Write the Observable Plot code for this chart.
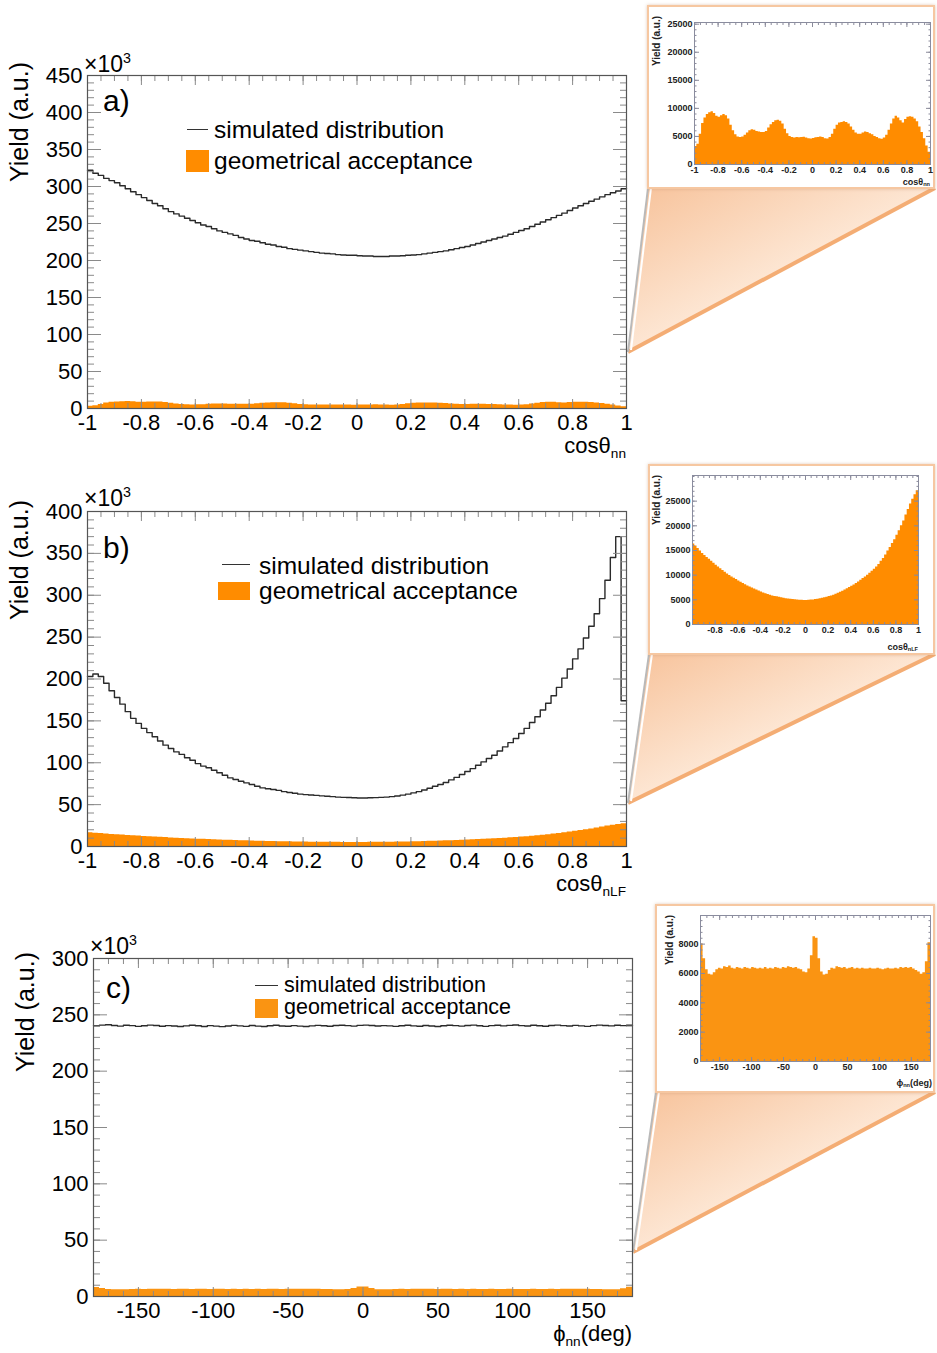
<!DOCTYPE html>
<html><head><meta charset="utf-8">
<script src="https://cdn.jsdelivr.net/npm/d3@7"></script>
<script src="https://cdn.jsdelivr.net/npm/@observablehq/plot@0.6"></script>
<style>
body{margin:0;background:#fff;}
#root{position:relative;width:937px;height:1353px;overflow:hidden;font-family:"Liberation Sans",Arial,Helvetica,sans-serif;color:#000;}
.abs{position:absolute;white-space:nowrap;line-height:1;}
.abs sub{font-size:0.62em;vertical-align:-0.35em;line-height:0;}
.abs sup{font-size:0.62em;vertical-align:0.6em;line-height:0;}
svg.plot{position:absolute;overflow:visible;}
</style></head><body><div id="root"></div>
<script>
// ---------------- data ----------------
// (a) cos theta_nn : 100 bins on [-1,1]
const simA = [
 322,318,315,311,308,305,301,297,293,289,
 285,281,277,274,270,266,263,260,257,254,
 251,248,246,243,240,238,236,234,231,229,
 227,226,224,222,221,219,218,216,215,214,
 213,212,211,210,209.5,209,208,207.5,207,207,
 206.5,206,206,205.5,205.5,205.5,206,206,206.5,207,
 207.5,208,209,210,211,212,213,214.5,216,217.5,
 219,221,223,225,227,229,231,233,235.5,238,
 240.5,243,246,249,252,255,258,261,264,267.5,
 271,274,277,280,283,286,289,291.5,294,297];
const accA = [
 3200,3600,5400,7300,8300,8900,9200,9400,9100,8600,
 8400,8700,8900,8700,8100,7000,6000,5300,4900,4800,
 4900,5200,5600,6000,6200,6100,5900,5800,5700,5700,
 5900,6500,7100,7500,7800,7900,7700,7200,6300,5500,
 5000,4800,4700,4800,4750,4800,4850,4700,4600,4550,
 4650,4750,4800,4900,4800,4600,4550,4800,5400,6300,
 7000,7400,7500,7600,7500,7200,6700,6100,5600,5400,
 5400,5600,5800,5700,5500,5300,5000,4800,4600,4500,
 4700,5200,6100,7200,8100,8600,8300,7800,7400,8000,
 8400,8500,8400,8100,7600,6700,5700,4600,3300,2200];
// (b) cos theta_nLF : 100 bins on [-1,1]
const simB = [
 203,206,203,195,186,178,170,161,153,147,
 141,136,131,126,121,117,113,110,106,103,
 99,96,94,91,88,85,82,80,78,76,
 74,72,70,69,68,67,65.5,64.5,63.5,62.5,
 62,61.5,61,60.5,60,59.5,59,58.7,58.5,58.2,
 58,58,58.2,58.4,58.7,59,59.6,60.3,61.3,62.5,
 64,65.5,67.5,69.5,72,74,76.5,79.5,82.5,86,
 89.5,93,97,101,105,109,114,119,124,129,
 135,141,148,155,163,171,180,190,201,212,
 224,236,249,263,278,296,318,345,370,174];
const accB = [
 16300,15900,15400,14900,14400,14000,13600,13200,12800,12400,
 12000,11650,11300,10950,10600,10250,9950,9650,9350,9100,
 8800,8550,8300,8050,7800,7600,7400,7200,7000,6800,
 6600,6400,6250,6100,5950,5800,5700,5600,5500,5400,
 5300,5200,5150,5100,5050,5000,4950,4900,4900,4880,
 4880,4900,4950,4980,5050,5100,5200,5300,5400,5500,
 5650,5800,5950,6150,6350,6550,6750,7000,7250,7500,
 7750,8000,8300,8600,8950,9300,9650,10000,10400,10800,
 11200,11650,12150,12800,13400,14100,14900,15600,16400,17200,
 18100,19000,20000,21000,22200,23300,24400,25400,26300,27100];
// (c) phi_nn : 90 bins on [-180,180]
const simC = [
 240.3,240.9,241.2,240.5,240.0,240.7,240.4,239.8,240.3,240.9,
 240.5,239.9,240.4,240.1,239.6,240.2,240.8,240.3,239.7,240.4,
 240.0,239.5,240.1,240.6,240.2,239.8,240.5,240.0,239.6,240.3,
 240.7,240.1,239.9,240.4,240.0,239.7,240.2,240.6,240.3,239.9,
 240.5,240.8,240.4,240.0,240.6,240.9,240.5,240.1,240.4,240.2,
 239.8,240.3,240.7,240.2,239.9,240.5,240.1,239.7,240.3,240.8,
 240.4,240.0,240.5,240.9,240.3,239.8,240.4,240.7,240.2,240.6,
 241.0,240.4,240.1,240.7,240.3,239.9,240.5,240.9,240.4,240.1,
 240.6,240.2,239.8,240.4,240.9,240.5,240.2,240.8,240.4,240.7];
const accC = [
 8000,7000,6250,5950,5900,6050,6250,6350,6300,6450,
 6400,6500,6350,6300,6400,6350,6300,6400,6350,6300,
 6400,6350,6300,6350,6300,6400,6300,6350,6300,6400,
 6350,6300,6400,6350,6450,6400,6350,6400,6300,6250,
 6100,6050,6300,7200,8500,8400,7000,6100,5900,5950,
 6200,6350,6300,6450,6400,6350,6400,6300,6350,6400,
 6300,6350,6300,6350,6300,6300,6350,6300,6300,6350,
 6300,6250,6300,6350,6300,6300,6350,6300,6400,6350,
 6400,6350,6400,6300,6200,6100,5950,6050,6800,8100];

// tick labels
const cosTicks = [-1,-0.8,-0.6,-0.4,-0.2,0,0.2,0.4,0.6,0.8,1];
const cosTicksInsetB = [-0.8,-0.6,-0.4,-0.2,0,0.2,0.4,0.6,0.8,1];
const phiTicks = [-150,-100,-50,0,50,100,150];
const yTicksA = [0,50,100,150,200,250,300,350,400,450];
const yTicksB = [0,50,100,150,200,250,300,350,400];
const yTicksC = [0,50,100,150,200,250,300];
const yTicksInsetAB = [0,5000,10000,15000,20000,25000];
const yTicksInsetC = [0,2000,4000,6000,8000];

const legendSim = "simulated distribution";
const legendAcc = "geometrical acceptance";

// ---------------- helpers ----------------
const FONT = '"Liberation Sans", Arial, Helvetica, sans-serif';
const ORANGE = "#ff8c00";
const ORANGE_C = "#fa9412";
const root = document.getElementById("root");

function histTable(values, lo, hi, scale) {
  const w = (hi - lo) / values.length;
  const t = values.map((v, i) => ({x: lo + i * w, y: v * scale}));
  t.push({x: hi, y: values[values.length - 1] * scale});
  return t;
}
function rng(a, b, s) { return d3.range(Math.round((b - a) / s) + 1).map(i => +(a + i * s).toFixed(6)); }

function tickMarks(xMajor, xMinor, yMajor, yMinor, xl, xs, yl, ys, stroke) {
  const o = {tickFormat: () => "", label: null, stroke, strokeWidth: 1};
  return [
    Plot.axisX(xMajor, {...o, anchor: "bottom", tickSize: -xl}),
    Plot.axisX(xMinor, {...o, anchor: "bottom", tickSize: -xs}),
    Plot.axisX(xMajor, {...o, anchor: "top", tickSize: -xl}),
    Plot.axisX(xMinor, {...o, anchor: "top", tickSize: -xs}),
    Plot.axisY(yMajor, {...o, anchor: "left", tickSize: -yl}),
    Plot.axisY(yMinor, {...o, anchor: "left", tickSize: -ys}),
    Plot.axisY(yMajor, {...o, anchor: "right", tickSize: -yl}),
    Plot.axisY(yMinor, {...o, anchor: "right", tickSize: -ys})
  ];
}

function place(svg, left, top) {
  svg.classList.add("plot");
  svg.style.left = left + "px";
  svg.style.top = top + "px";
  root.appendChild(svg);
}

function addText(html, x, y, o = {}) {
  const d = document.createElement("div");
  d.className = "abs";
  d.innerHTML = html;
  d.style.left = x + "px"; d.style.top = y + "px";
  d.style.fontSize = (o.size || 22) + "px";
  if (o.color) d.style.color = o.color;
  if (o.weight) d.style.fontWeight = o.weight;
  const a = o.anchor || "start";
  const tx = a === "start" ? "0" : a === "middle" ? "-50%" : "-100%";
  d.style.transform = `translate(${tx},-50%)` + (o.rotate ? ` rotate(${o.rotate}deg)` : "");
  root.appendChild(d);
}
function addBox(x, y, w, h, style) {
  const d = document.createElement("div");
  d.style.position = "absolute";
  d.style.left = x + "px"; d.style.top = y + "px";
  d.style.width = w + "px"; d.style.height = h + "px";
  Object.assign(d.style, style);
  root.appendChild(d);
}

// ---------------- beams (zoom decoration) ----------------
const beams = [
  {apex: [628, 352], bl: [648, 188], br: [935, 188]},
  {apex: [628, 803], bl: [649, 654], br: [935, 654]},
  {apex: [633, 1252], bl: [656, 1092], br: [935, 1092]}
];
const bsvg = d3.create("svg").attr("width", 937).attr("height", 1353)
  .style("position", "absolute").style("left", 0).style("top", 0);
const defs = bsvg.append("defs");
beams.forEach((b, i) => {
  const g = defs.append("linearGradient").attr("id", "bg" + i)
    .attr("x1", 0).attr("y1", 0).attr("x2", 1).attr("y2", 1);
  g.append("stop").attr("offset", 0).attr("stop-color", "#f7c29a");
  g.append("stop").attr("offset", 0.5).attr("stop-color", "#fde6d3");
  g.append("stop").attr("offset", 1).attr("stop-color", "#ffffff");
  bsvg.append("polygon").attr("points", [b.apex, b.bl, b.br].map(p => p.join(",")).join(" "))
    .attr("fill", `url(#bg${i})`);
  bsvg.append("line").attr("x1", b.apex[0]).attr("y1", b.apex[1]).attr("x2", b.br[0]).attr("y2", b.br[1])
    .attr("stroke", "#f4ad74").attr("stroke-width", 4);
  bsvg.append("line").attr("x1", b.apex[0]).attr("y1", b.apex[1]).attr("x2", b.bl[0]).attr("y2", b.bl[1])
    .attr("stroke", "#b9b9b9").attr("stroke-width", 2);
  bsvg.append("line").attr("x1", b.apex[0] + 3).attr("y1", b.apex[1] - 2).attr("x2", b.bl[0] + 3).attr("y2", b.bl[1])
    .attr("stroke", "#ffffff").attr("stroke-width", 2);
});
root.appendChild(bsvg.node());

// ---------------- main panels ----------------
function mainPanel(p) {
  const svg = Plot.plot({
    width: p.W, height: p.H,
    marginLeft: p.x0, marginRight: p.W - p.x1, marginTop: p.y0, marginBottom: p.H - p.y1,
    x: {domain: p.xdom}, y: {domain: p.ydom},
    style: {fontFamily: FONT, fontSize: "22px", color: "#000", background: "transparent", overflow: "visible"},
    marks: [
      Plot.areaY(histTable(p.acc, p.xdom[0], p.xdom[1], 1 / 1000), {x: "x", y: "y", curve: "step-after", fill: p.orange}),
      Plot.line(histTable(p.sim, p.xdom[0], p.xdom[1], 1), {x: "x", y: "y", curve: "step-after", stroke: "#2a2a2a", strokeWidth: 1.4}),
      ...tickMarks(p.xMajor, p.xMinor, p.yLabels, p.yMinor, 9, 5, 14, 7, "#8a8a8a"),
      Plot.frame({stroke: "#555", strokeWidth: 1.2}),
      Plot.axisX(p.xLabels, {anchor: "bottom", tickSize: 0, tickPadding: 6, fontSize: 22, label: null, tickFormat: d => String(d)}),
      Plot.axisY(p.yLabels, {anchor: "left", tickSize: 0, tickPadding: 5, fontSize: 22, label: null, tickFormat: d => String(d)})
    ]
  });
  place(svg, 0, p.top);
}

mainPanel({sim: simA, acc: accA, xdom: [-1, 1], ydom: [0, 450], top: 0, W: 640, H: 460,
  x0: 87, x1: 626, y0: 75, y1: 408, orange: ORANGE,
  xLabels: cosTicks, xMajor: cosTicks, xMinor: rng(-1, 1, 0.05), yLabels: yTicksA, yMinor: rng(0, 450, 10)});
mainPanel({sim: simB, acc: accB, xdom: [-1, 1], ydom: [0, 400], top: 470, W: 640, H: 420,
  x0: 87, x1: 626, y0: 41, y1: 376, orange: ORANGE,
  xLabels: cosTicks, xMajor: cosTicks, xMinor: rng(-1, 1, 0.05), yLabels: yTicksB, yMinor: rng(0, 400, 10)});
mainPanel({sim: simC, acc: accC, xdom: [-180, 180], ydom: [0, 300], top: 900, W: 640, H: 453,
  x0: 93, x1: 632, y0: 58, y1: 396, orange: ORANGE_C,
  xLabels: phiTicks, xMajor: phiTicks, xMinor: rng(-180, 180, 10), yLabels: yTicksC, yMinor: rng(0, 300, 10)});

// main panel texts
const yTitle = "Yield (a.u.)";
addText(yTitle, 19, 122, {size: 25, anchor: "middle", rotate: -90});
addText(yTitle, 19, 560, {size: 25, anchor: "middle", rotate: -90});
addText(yTitle, 25, 1012, {size: 25, anchor: "middle", rotate: -90});
addText("×10<sup>3</sup>", 84, 64, {size: 23});
addText("×10<sup>3</sup>", 84, 498, {size: 23});
addText("×10<sup>3</sup>", 90, 946, {size: 23});
addText("a)", 103, 101, {size: 30});
addText("b)", 103, 548, {size: 30});
addText("c)", 106, 988, {size: 30});
addText("cosθ<sub>nn</sub>", 626, 446, {size: 22, anchor: "end"});
addText("cosθ<sub>nLF</sub>", 626, 884, {size: 22, anchor: "end"});
addText("ϕ<sub>nn</sub>(deg)", 632, 1334, {size: 22, anchor: "end"});

// legends
addBox(187, 128.5, 21, 0, {borderTop: "1.6px solid #333"});
addBox(186, 150, 23, 22, {background: ORANGE});
addText(legendSim, 214, 130, {size: 24.5});
addText(legendAcc, 214, 161, {size: 24.5});
addBox(222, 563.5, 28, 0, {borderTop: "1.6px solid #333"});
addBox(218, 582, 32, 18, {background: ORANGE});
addText(legendSim, 259, 566, {size: 24.5});
addText(legendAcc, 259, 591, {size: 24.5});
addBox(255, 985, 23, 0, {borderTop: "1.6px solid #333"});
addBox(255, 999, 23, 19, {background: ORANGE_C});
addText(legendSim, 284, 986, {size: 21.5});
addText(legendAcc, 284, 1008, {size: 21.5});

// ---------------- insets ----------------
function inset(p) {
  addBox(p.left, p.top, p.W - 2, p.H, {boxSizing: "border-box", border: "2px solid #f6c7a1", background: "#fff",
    boxShadow: "0 0 3px rgba(200,150,110,0.5)"});
  const svg = Plot.plot({
    width: p.W, height: p.H,
    marginLeft: p.mL, marginRight: p.mR, marginTop: p.mT, marginBottom: p.mB,
    x: {domain: p.xdom}, y: {domain: p.ydom},
    style: {fontFamily: FONT, fontSize: "9px", fontWeight: "bold", color: "#222", background: "transparent", overflow: "visible"},
    marks: [
      Plot.areaY(histTable(p.acc, p.xdom[0], p.xdom[1], 1), {x: "x", y: "y", curve: "step-after", fill: p.orange}),
      ...tickMarks(p.xMajor, p.xMinor, p.yLabels, p.yMinor, 4, 2, 5, 2.5, "#8a8a9a"),
      Plot.frame({stroke: "#8a8c9e", strokeWidth: 1}),
      Plot.axisX(p.xLabels, {anchor: "bottom", tickSize: 0, tickPadding: 2, fontSize: 9, label: null, tickFormat: d => String(d)}),
      Plot.axisY(p.yLabels, {anchor: "left", tickSize: 0, tickPadding: 2, fontSize: 9, label: null, tickFormat: d => String(d)})
    ]
  });
  place(svg, p.left, p.top);
}

inset({acc: accA, xdom: [-1, 1], ydom: [0, 25300], left: 647, top: 5, W: 290, H: 184,
  mL: 47, mR: 7, mT: 17, mB: 25, orange: ORANGE,
  xLabels: cosTicks, xMajor: cosTicks, xMinor: rng(-1, 1, 0.05), yLabels: yTicksInsetAB, yMinor: rng(0, 25000, 1000)});
inset({acc: accB, xdom: [-1, 1], ydom: [0, 30200], left: 648, top: 464, W: 289, H: 191,
  mL: 44, mR: 19, mT: 11, mB: 31, orange: ORANGE,
  xLabels: cosTicksInsetB, xMajor: cosTicks, xMinor: rng(-1, 1, 0.05), yLabels: yTicksInsetAB, yMinor: rng(0, 30000, 1000)});
inset({acc: accC, xdom: [-180, 180], ydom: [0, 9950], left: 655, top: 904, W: 282, H: 189,
  mL: 45, mR: 7, mT: 11, mB: 32, orange: ORANGE_C,
  xLabels: phiTicks, xMajor: phiTicks, xMinor: rng(-180, 180, 10), yLabels: yTicksInsetC, yMinor: rng(0, 9600, 400)});

addText(yTitle, 657, 41, {size: 10, anchor: "middle", rotate: -90, weight: "bold", color: "#222"});
addText(yTitle, 657, 500, {size: 10, anchor: "middle", rotate: -90, weight: "bold", color: "#222"});
addText(yTitle, 670, 940, {size: 10, anchor: "middle", rotate: -90, weight: "bold", color: "#222"});
addText("cosθ<sub>nn</sub>", 930, 182, {size: 9, anchor: "end", weight: "bold", color: "#222"});
addText("cosθ<sub>nLF</sub>", 918, 647, {size: 9, anchor: "end", weight: "bold", color: "#222"});
addText("ϕ<sub>nn</sub>(deg)", 932, 1083, {size: 9, anchor: "end", weight: "bold", color: "#222"});
</script></body></html>
